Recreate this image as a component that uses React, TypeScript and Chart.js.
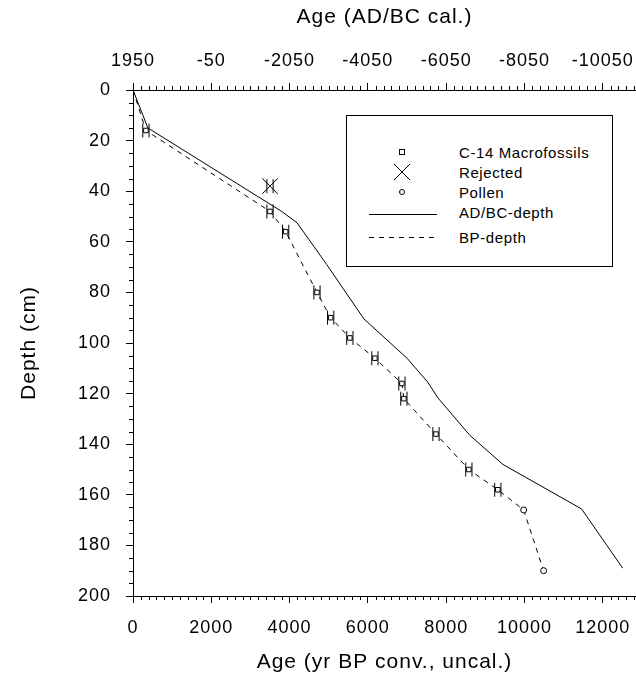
import React, { useEffect, useRef } from 'react';
import { Chart, registerables } from 'chart.js';

Chart.register(...registerables);

// ---- data ----
const X_MIN = 0;
const X_MAX = 12850;
const Y_MIN = 0;
const Y_MAX = 200;
const X_MINOR = 200;
const Y_MINOR = 5;
const CAL_OFFSET = 1950; // AD/BC = 1950 - BP

const xTicks = [0, 2000, 4000, 6000, 8000, 10000, 12000];
const yTicks = [0, 20, 40, 60, 80, 100, 120, 140, 160, 180, 200];

// C-14 macrofossil dates (yr BP) and depths (cm)
const sampleAge = [330, 3500, 3900, 4700, 5050, 5540, 6180, 6870, 6920, 7740, 8580, 9320];
const sampleDepth = [16, 48, 56, 80, 90, 98, 106, 116, 122, 136, 150, 158];
const sampleErr = [80, 80, 80, 80, 80, 80, 80, 80, 80, 80, 80, 80];

const rejectedAge = [3500];
const rejectedDepth = [38];
const rejectedErr = [80];

const pollenAge = [9980, 10490];
const pollenDepth = [166, 190];

// AD/BC-depth model line
const adbcAge = [0, 380, 3800, 4190, 4950, 5900, 7000, 7530, 7790, 8600, 9450, 11460, 12510];
const adbcDepth = [0, 15, 48, 52.5, 69, 90.5, 106, 115.5, 121.7, 136.4, 148, 165.6, 189];

// BP-depth model line
const bpAge = [0, 330, 3500, 3900, 4700, 5050, 5540, 6180, 6870, 6920, 7740, 8580, 9320, 9980, 10490];
const bpDepth = [0, 16, 48, 56, 80, 90, 98, 106, 116, 122, 136, 150, 158, 166, 190];

const legendLabels = ['C-14 Macrofossils', 'Rejected', 'Pollen', 'AD/BC-depth', 'BP-depth'];

const FONT = '"Liberation Sans", Arial, Helvetica, sans-serif';

const pts = (xs: number[], ys: number[]) => xs.map((x, i) => ({ x, y: ys[i] }));

const letterSpacingPlugin = {
  id: 'letterSpacing',
  beforeLayout(chart: any) {
    (chart.ctx as any).letterSpacing = '1px';
  },
  beforeDraw(chart: any) {
    (chart.ctx as any).letterSpacing = '1px';
  },
};

const minorTicksPlugin = {
  id: 'minorTicks',
  afterDraw(chart: any) {
    const ctx = chart.ctx;
    const { x, x2, y } = chart.scales;
    ctx.save();
    ctx.strokeStyle = '#000';
    ctx.lineWidth = 1;
    ctx.beginPath();
    for (let v = X_MIN; v <= X_MAX; v += X_MINOR) {
      if (xTicks.includes(v)) continue;
      const px = Math.round(x.getPixelForValue(v)) + 0.5;
      ctx.moveTo(px, x.top);
      ctx.lineTo(px, x.top + 4);
      ctx.moveTo(px, x2.bottom);
      ctx.lineTo(px, x2.bottom - 4);
    }
    for (let v = Y_MIN; v <= Y_MAX; v += Y_MINOR) {
      if (yTicks.includes(v)) continue;
      const py = Math.round(y.getPixelForValue(v)) + 0.5;
      ctx.moveTo(y.right, py);
      ctx.lineTo(y.right - 4, py);
    }
    ctx.stroke();
    ctx.restore();
  },
};

export default function App() {
  const canvasRef = useRef<HTMLCanvasElement | null>(null);

  useEffect(() => {
    const canvas = canvasRef.current;
    if (!canvas) return;

    const tickFont = { family: FONT, size: 18 };
    const titleFont = { family: FONT, size: 21 };
    const grid = { drawOnChartArea: false, drawTicks: true, tickLength: 7, color: '#000', tickColor: '#000', lineWidth: 1 };
    const border = { display: true, color: '#000', width: 1 };
    const setTicks = (vals: number[]) => (s: any) => {
      s.ticks = vals.map((v) => ({ value: v }));
    };

    const chart = new Chart(canvas, {
      type: 'scatter',
      data: {
        datasets: [
          {
            label: 'C-14 Macrofossils',
            data: pts(sampleAge, sampleDepth),
            pointStyle: 'rect',
            pointRadius: 3.2,
            borderColor: '#000',
            backgroundColor: '#fff',
            borderWidth: 1,
            showLine: false,
          },
          {
            label: 'err-left',
            data: pts(
              [...sampleAge, ...rejectedAge].map((a, i) => a - [...sampleErr, ...rejectedErr][i]),
              [...sampleDepth, ...rejectedDepth]
            ),
            pointStyle: 'line',
            rotation: 90,
            pointRadius: 7,
            borderColor: '#000',
            borderWidth: 1,
            showLine: false,
          },
          {
            label: 'err-right',
            data: pts(
              [...sampleAge, ...rejectedAge].map((a, i) => a + [...sampleErr, ...rejectedErr][i]),
              [...sampleDepth, ...rejectedDepth]
            ),
            pointStyle: 'line',
            rotation: 90,
            pointRadius: 7,
            borderColor: '#000',
            borderWidth: 1,
            showLine: false,
          },
          {
            label: 'Rejected',
            data: pts(rejectedAge, rejectedDepth),
            pointStyle: 'crossRot',
            pointRadius: 11,
            borderColor: '#000',
            borderWidth: 1,
            showLine: false,
          },
          {
            label: 'Pollen',
            data: pts(pollenAge, pollenDepth),
            pointStyle: 'circle',
            pointRadius: 3,
            borderColor: '#000',
            backgroundColor: '#fff',
            borderWidth: 1,
            showLine: false,
          },
          {
            label: 'AD/BC-depth',
            data: pts(adbcAge, adbcDepth),
            showLine: true,
            borderColor: '#000',
            borderWidth: 1,
            pointRadius: 0,
            tension: 0,
          },
          {
            label: 'BP-depth',
            data: pts(bpAge, bpDepth),
            showLine: true,
            borderColor: '#000',
            borderWidth: 1,
            borderDash: [5, 5],
            pointRadius: 0,
            tension: 0,
          },
        ],
      },
      options: {
        animation: false,
        responsive: true,
        maintainAspectRatio: false,
        layout: { padding: 0, autoPadding: false },
        plugins: {
          legend: { display: false },
          tooltip: { enabled: false },
        },
        scales: {
          x: {
            type: 'linear',
            position: 'bottom',
            min: X_MIN,
            max: X_MAX,
            afterBuildTicks: setTicks(xTicks),
            afterFit: (s: any) => {
              s.height = 79;
              s.paddingLeft = 0;
              s.paddingRight = 0;
            },
            ticks: {
              autoSkip: false,
              maxRotation: 0,
              minRotation: 0,
              color: '#000',
              font: tickFont,
              padding: 14,
              callback: (v: any) => String(v),
            },
            grid,
            border,
            title: {
              display: true,
              text: 'Age (yr BP conv., uncal.)',
              color: '#000',
              font: titleFont,
              padding: { top: 0, bottom: 0 },
            },
          },
          x2: {
            type: 'linear',
            position: 'top',
            min: X_MIN,
            max: X_MAX,
            afterBuildTicks: setTicks(xTicks),
            afterFit: (s: any) => {
              s.height = 90;
              s.paddingLeft = 0;
              s.paddingRight = 0;
            },
            ticks: {
              autoSkip: false,
              maxRotation: 0,
              minRotation: 0,
              color: '#000',
              font: tickFont,
              padding: 11,
              callback: (v: any) => String(CAL_OFFSET - Number(v)),
            },
            grid,
            border,
            title: {
              display: true,
              text: 'Age (AD/BC cal.)',
              color: '#000',
              font: titleFont,
              padding: { top: 5, bottom: 0 },
            },
          },
          y: {
            type: 'linear',
            position: 'left',
            reverse: true,
            min: Y_MIN,
            max: Y_MAX,
            afterBuildTicks: setTicks(yTicks),
            afterFit: (s: any) => {
              s.width = 133;
              s.paddingTop = 0;
              s.paddingBottom = 0;
            },
            ticks: {
              autoSkip: false,
              color: '#000',
              font: tickFont,
              padding: 15,
            },
            grid,
            border,
            title: {
              display: true,
              text: 'Depth (cm)',
              color: '#000',
              font: titleFont,
              padding: { top: 17, bottom: 0 },
            },
          },
        },
      } as any,
      plugins: [letterSpacingPlugin, minorTicksPlugin],
    });

    return () => chart.destroy();
  }, []);

  const legendX = 346;
  const legendY = 115;
  const rowY = [37, 57, 77, 97, 122];
  const markX = 56;
  const textX = 113;

  return (
    <div style={{ position: 'fixed', left: 0, top: 0, width: 636, height: 675, background: '#fff' }}>
      <canvas ref={canvasRef} />
      <svg
        width={267}
        height={152}
        style={{ position: 'absolute', left: legendX, top: legendY }}
      >
        <rect x={0.5} y={0.5} width={266} height={151} fill="#fff" stroke="#000" strokeWidth={1} />
        <rect x={markX - 2.5} y={rowY[0] - 2.5} width={5} height={5} fill="#fff" stroke="#000" strokeWidth={1} />
        <line x1={markX - 8} y1={rowY[1] - 8} x2={markX + 8} y2={rowY[1] + 8} stroke="#000" strokeWidth={1} />
        <line x1={markX - 8} y1={rowY[1] + 8} x2={markX + 8} y2={rowY[1] - 8} stroke="#000" strokeWidth={1} />
        <circle cx={markX} cy={rowY[2]} r={2.5} fill="#fff" stroke="#000" strokeWidth={1} />
        <line x1={23} y1={rowY[3] + 2.5} x2={91} y2={rowY[3] + 2.5} stroke="#000" strokeWidth={1} />
        <line x1={23} y1={rowY[4] + 0.5} x2={91} y2={rowY[4] + 0.5} stroke="#000" strokeWidth={1} strokeDasharray="5 5" />
        {legendLabels.map((t, i) => (
          <text
            key={t}
            x={textX}
            y={rowY[i]}
            dominantBaseline="central"
            fontFamily={FONT}
            fontSize={15}
            letterSpacing={0.6}
            fill="#000"
          >
            {t}
          </text>
        ))}
      </svg>
    </div>
  );
}
